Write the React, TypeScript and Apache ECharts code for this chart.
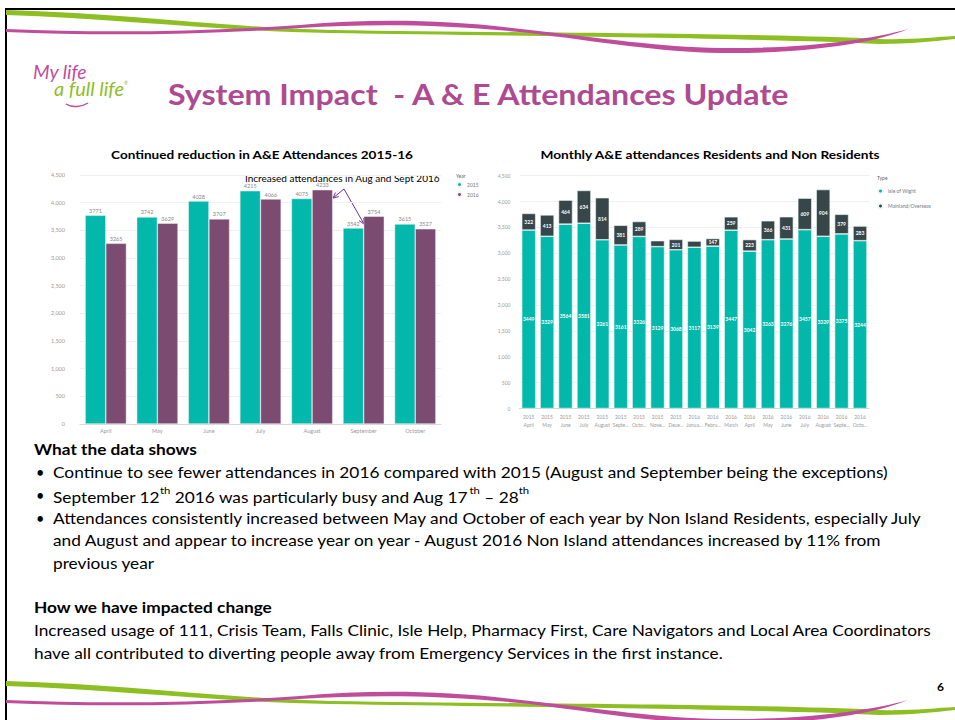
import React, { useEffect, useRef } from "react";
import * as echarts from "echarts";

// ---------- DATA ----------
const monthsLeft = ["April", "May", "June", "July", "August", "September", "October"];
const attend2015 = [3771, 3742, 4028, 4215, 4075, 3542, 3615];
const attend2016 = [3265, 3629, 3707, 4066, 4233, 3754, 3527];
const yearNames = ["2015", "2016"];

const periodYears = ["2015", "2015", "2015", "2015", "2015", "2015", "2015", "2015", "2015", "2016", "2016", "2016", "2016", "2016", "2016", "2016", "2016", "2016", "2016"];
const periodMonths = ["April", "May", "June", "July", "August", "Septe...", "Octo...", "Nove...", "Dece...", "Janua...", "Febru...", "March", "April", "May", "June", "July", "August", "Septe...", "Octo..."];
const isleOfWight = [3449, 3329, 3564, 3581, 3261, 3161, 3326, 3129, 3068, 3117, 3139, 3447, 3042, 3263, 3276, 3457, 3329, 3375, 3244];
const mainlandOverseas = [322, 413, 464, 634, 814, 381, 289, 115, 201, 120, 147, 259, 223, 366, 431, 609, 904, 379, 283];
const typeNames = ["Isle of Wight", "Mainland/Overseas"];

const yMin = 0;
const yMax = 4500;
const yStep = 500;

const slideTitle = "System Impact  - A & E Attendances Update";
const leftTitle = "Continued reduction in A&E Attendances 2015-16";
const rightTitle = "Monthly A&E attendances Residents and Non Residents";
const annotation = "Increased attendances in Aug and Sept 2016";
const heading1 = "What the data shows";
const bullet1 = "Continue to see fewer attendances in 2016 compared with 2015 (August and September being the exceptions)";
const bullet2Parts = [["September 12", "th"], [" 2016 was particularly busy and Aug 17", "th"], [" \u2013 28", "th"]];
const bullet3Lines = [
  "Attendances consistently increased between May and October of each year by Non Island Residents, especially July",
  "and August and appear to increase year on year - August 2016 Non Island attendances increased by 11% from",
  "previous year",
];
const heading2 = "How we have impacted change";
const paraLines = [
  "Increased usage of 111, Crisis Team, Falls Clinic, Isle Help, Pharmacy First, Care Navigators and Local Area Coordinators",
  "have all contributed to diverting people away from Emergency Services in the first instance.",
];
const pageNumber = "6";

// ---------- STYLE ----------
const TEAL = "#01B8AA";
const PLUM = "#7B4B71";
const SLATE = "#374649";
const MAGENTA = "#AE4A92";
const LEAF = "#8DBE22";
const ROSE = "#C04C9C";
const ARROW = "#7030A0";
const FF = "Lato";

const greenPath =
  "M6,10 C120,13 220,27 330,30 C520,33 760,33 880,39 C910,40 935,37 955,36 L955,39 C935,41 910,44 880,44 C760,38 520,36 330,33 C220,31 120,19 6,15 Z";
const pinkPath =
  "M6,29 C100,33 200,32 300,25 C380,18 450,20 530,30 C600,38 660,47 720,48 C800,49 870,40 908,29 C875,43 805,54 720,53 C660,52 600,42 530,33 C450,25 380,23 300,28 C200,35 100,36 6,32 Z";

try {
  echarts.graphic.registerShape("greenSwoosh", echarts.graphic.extendPath(greenPath, {}));
  echarts.graphic.registerShape("pinkSwoosh", echarts.graphic.extendPath(pinkPath, {}));
} catch (e) {}

const fmt = (v: number) => v.toLocaleString("en-US");

export default function App() {
  const ref = useRef<HTMLDivElement>(null);

  useEffect(() => {
    if (!ref.current) return;
    const chart = echarts.init(ref.current, undefined, { renderer: "svg" });
    const ctx = document.createElement("canvas").getContext("2d")!;
    const measure = (t: string, font: string) => {
      ctx.font = font;
      return ctx.measureText(t).width;
    };

    const txt = (x: number, y: number, text: string, font: string, fill: string, align = "left", sx = 1) => ({
      type: "text",
      x,
      y,
      scaleX: sx,
      silent: true,
      style: { text, font, fill, align, verticalAlign: "middle", textAlign: align, textVerticalAlign: "middle" },
    });

    const arrow = (x1: number, y1: number, x2: number, y2: number) => {
      const ang = Math.atan2(y2 - y1, x2 - x1);
      const L = 6,
        a = 0.45;
      return [
        { type: "line", silent: true, shape: { x1, y1, x2, y2 }, style: { stroke: ARROW, lineWidth: 1 } },
        {
          type: "polyline",
          silent: true,
          shape: {
            points: [
              [x2 - L * Math.cos(ang - a), y2 - L * Math.sin(ang - a)],
              [x2, y2],
              [x2 - L * Math.cos(ang + a), y2 - L * Math.sin(ang + a)],
            ],
          },
          style: { stroke: ARROW, lineWidth: 1, fill: null },
        },
      ];
    };

    // fonts & scales
    const bodyFont = `14.5px ${FF}`;
    const bodyBold = `bold 14.5px ${FF}`;
    const bodyScale = 836 / measure(bullet1, bodyFont);
    const titleFont = `bold 28.5px ${FF}`;
    const titleScale = 624 / measure(slideTitle, titleFont);
    const ctFont = `bold 11px ${FF}`;
    const ltScale = 303 / measure(leftTitle, ctFont);
    const rtScale = 340 / measure(rightTitle, ctFont);
    const annFont = `9.5px ${FF}`;
    const annScale = 195 / measure(annotation, annFont);
    const logoFont1 = `italic 19px ${FF}`;
    const logoS1 = 54 / measure("My life", logoFont1);
    const logoS2 = 70 / measure("a full life", logoFont1);

    const b2text = bullet2Parts.map(([n, s]) => `{n|${n}}{s|${s}}`).join("");

    const graphic: any[] = [
      // slide frame
      { type: "line", silent: true, shape: { x1: 5, y1: 9, x2: 955, y2: 9 }, style: { stroke: "#000", lineWidth: 2 } },
      { type: "line", silent: true, shape: { x1: 6, y1: 9, x2: 6, y2: 720 }, style: { stroke: "#000", lineWidth: 2 } },
      // swooshes
      { type: "greenSwoosh", x: 0, y: 0, silent: true, style: { fill: LEAF } },
      { type: "pinkSwoosh", x: 0, y: 0, silent: true, style: { fill: ROSE } },
      { type: "greenSwoosh", x: 0, y: 671, silent: true, style: { fill: LEAF } },
      { type: "pinkSwoosh", x: 0, y: 671, silent: true, style: { fill: ROSE } },
      // logo
      txt(33, 72, "My life", logoFont1, ROSE, "left", logoS1),
      txt(54, 89, "a full life", logoFont1, LEAF, "left", logoS2),
      txt(124, 83, "\u00ae", `5px ${FF}`, LEAF, "left"),
      {
        type: "bezierCurve",
        silent: true,
        shape: { x1: 66, y1: 104, x2: 88, y2: 103, cpx1: 72, cpy1: 108, cpx2: 82, cpy2: 107 },
        style: { stroke: ROSE, lineWidth: 1.5, fill: null },
      },
      // title
      txt(168, 94, slideTitle, titleFont, MAGENTA, "left", titleScale),
      // chart titles
      txt(262, 155, leftTitle, ctFont, "#000", "center", ltScale),
      txt(710, 155, rightTitle, ctFont, "#000", "center", rtScale),
      // legend titles
      txt(456, 176, "Year", `5px ${FF}`, "#666", "left"),
      txt(877, 178, "Type", `5px ${FF}`, "#666", "left"),
      // annotation
      txt(245, 178, annotation, annFont, "#000", "left", annScale),
      ...arrow(344, 189, 333, 198),
      ...arrow(344, 189, 364, 224),
      // text body
      txt(34, 449, heading1, bodyBold, "#000", "left", bodyScale),
      txt(36, 472, "\u2022", bodyFont, "#000", "left"),
      txt(53, 472, bullet1, bodyFont, "#000", "left", bodyScale),
      txt(36, 495, "\u2022", bodyFont, "#000", "left"),
      {
        type: "text",
        x: 53,
        y: 495,
        scaleX: bodyScale,
        silent: true,
        style: {
          text: b2text,
          fill: "#000",
          align: "left",
          verticalAlign: "middle",
          textAlign: "left",
          textVerticalAlign: "middle",
          rich: {
            n: { fontSize: 14.5, fontFamily: FF, lineHeight: 20, verticalAlign: "bottom", fill: "#000", color: "#000" },
            s: { fontSize: 9.5, fontFamily: FF, lineHeight: 12, verticalAlign: "top", fill: "#000", color: "#000" },
          },
        },
      },
      txt(36, 518, "\u2022", bodyFont, "#000", "left"),
      ...bullet3Lines.map((l, i) => txt(53, 518 + i * 22.5, l, bodyFont, "#000", "left", bodyScale)),
      txt(34, 607, heading2, bodyBold, "#000", "left", bodyScale),
      ...paraLines.map((l, i) => txt(34, 630 + i * 23, l, bodyFont, "#000", "left", bodyScale)),
      txt(937, 686, pageNumber, `bold 12px ${FF}`, "#000", "left"),
    ];

    const axisLbl = { fontSize: 5.5, color: "#9a9a9a", fontFamily: FF };

    chart.setOption({
      animation: false,
      backgroundColor: "#fff",
      grid: [
        { left: 80, top: 175, width: 361, height: 249, outerBoundsMode: "none" },
        { left: 519.5, top: 175.7, width: 349.7, height: 232.8, outerBoundsMode: "none" },
      ],
      xAxis: [
        {
          type: "category",
          gridIndex: 0,
          data: monthsLeft,
          axisLine: { lineStyle: { color: "#d6d6d6" } },
          axisTick: { show: false },
          axisLabel: { ...axisLbl, margin: 4, interval: 0 },
        },
        {
          type: "category",
          gridIndex: 1,
          data: periodMonths.map((m, i) => `${periodYears[i]}\n${m}`),
          axisLine: { lineStyle: { color: "#d6d6d6" } },
          axisTick: { show: false },
          axisLabel: { ...axisLbl, fontSize: 5, lineHeight: 8, margin: 4, interval: 0 },
        },
      ],
      yAxis: [
        {
          type: "value",
          gridIndex: 0,
          min: yMin,
          max: yMax,
          interval: yStep,
          axisLine: { show: false },
          axisTick: { show: false },
          axisLabel: { ...axisLbl, margin: 15, formatter: (v: number) => fmt(v) },
          splitLine: { lineStyle: { color: "#f0f0f0" } },
        },
        {
          type: "value",
          gridIndex: 1,
          min: yMin,
          max: yMax,
          interval: yStep,
          axisLine: { show: false },
          axisTick: { show: false },
          axisLabel: { ...axisLbl, fontSize: 5, margin: 9, formatter: (v: number) => fmt(v) },
          splitLine: { lineStyle: { color: "#f0f0f0" } },
        },
      ],
      legend: [
        {
          data: yearNames,
          orient: "vertical",
          left: 456,
          top: 181,
          padding: 0,
          itemWidth: 5,
          itemHeight: 5,
          itemGap: 3,
          icon: "circle",
          textStyle: { fontSize: 5, color: "#777", fontFamily: FF },
        },
        {
          data: typeNames,
          orient: "vertical",
          left: 877,
          top: 187.5,
          padding: 0,
          itemWidth: 5,
          itemHeight: 5,
          itemGap: 8,
          icon: "circle",
          textStyle: { fontSize: 5, color: "#777", fontFamily: FF },
        },
      ],
      series: [
        {
          name: yearNames[0],
          type: "bar",
          xAxisIndex: 0,
          yAxisIndex: 0,
          data: attend2015,
          barGap: "0%",
          barCategoryGap: "20%",
          itemStyle: { color: TEAL, borderColor: "#f4f4f4", borderWidth: 0.5 },
          label: { show: true, position: "top", distance: 1.5, fontSize: 5.5, color: "#888", fontFamily: FF },
        },
        {
          name: yearNames[1],
          type: "bar",
          xAxisIndex: 0,
          yAxisIndex: 0,
          data: attend2016,
          barGap: "0%",
          barCategoryGap: "20%",
          itemStyle: { color: PLUM, borderColor: "#f4f4f4", borderWidth: 0.5 },
          label: { show: true, position: "top", distance: 1.5, fontSize: 5.5, color: "#888", fontFamily: FF },
        },
        {
          name: typeNames[0],
          type: "bar",
          stack: "type",
          xAxisIndex: 1,
          yAxisIndex: 1,
          data: isleOfWight,
          barCategoryGap: "24%",
          itemStyle: { color: TEAL, borderColor: "#eef8f7", borderWidth: 0.6 },
          label: { show: true, position: "inside", fontSize: 5, color: "#fff", fontWeight: "bold", fontFamily: FF },
        },
        {
          name: typeNames[1],
          type: "bar",
          stack: "type",
          xAxisIndex: 1,
          yAxisIndex: 1,
          data: mainlandOverseas,
          barCategoryGap: "24%",
          itemStyle: { color: SLATE, borderColor: "#eef8f7", borderWidth: 0.6 },
          label: {
            show: true,
            position: "inside",
            fontSize: 5,
            color: "#fff",
            fontWeight: "bold",
            fontFamily: FF,
            formatter: (p: any) => (p.value >= 140 ? String(p.value) : ""),
          },
        },
      ],
      graphic,
    });

    return () => chart.dispose();
  }, []);

  return (
    <div
      ref={ref}
      style={{ position: "fixed", left: 0, top: 0, width: 955, height: 720, background: "#fff" }}
    />
  );
}
